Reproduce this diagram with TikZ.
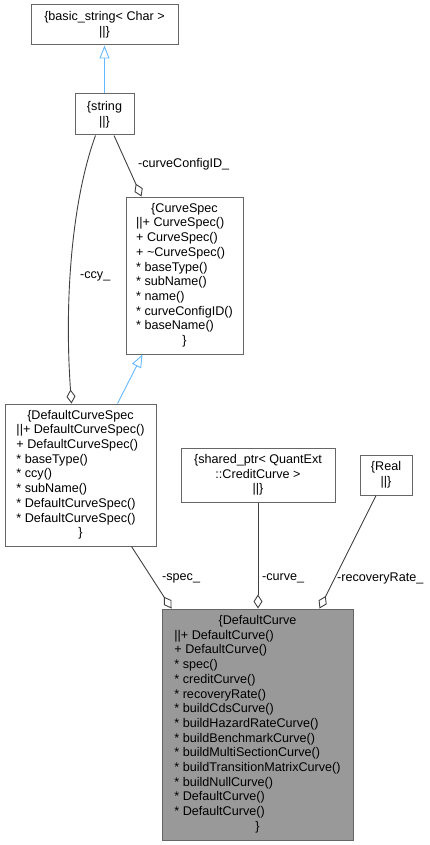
\documentclass[tikz,border=0pt]{standalone}
\usepackage{fontspec}
\setmainfont{Liberation Sans}
\usetikzlibrary{arrows.meta,calc}
\definecolor{boxline}{HTML}{666666}
\definecolor{edgeline}{HTML}{404040}
\definecolor{inhblue}{HTML}{63B8FF}
\definecolor{mainfill}{HTML}{999999}
\newcommand{\st}{{*}~}
\begin{document}
\begin{tikzpicture}[x=1pt,y=-1pt,
  every node/.style={font=\fontsize{12.6}{14.7}\selectfont, inner sep=0pt},
  cls/.style={draw=boxline, line width=1pt, fill=white, align=center},
  agg/.style={draw=edgeline, line width=0.9pt, {Diamond[open,length=14pt,width=9pt,line width=0.9pt]}-},
  inh/.style={draw=inhblue, line width=0.9pt, -{Triangle[open,length=13pt,width=10pt,line width=0.9pt]}},
  lbl/.style={anchor=west, text=black}]
\useasboundingbox (0,0) rectangle (430,845);

\node[cls, minimum width=147pt, minimum height=40pt] (bs) at (104.5,25)
  {\{basic\_string< Char >\\ ||\}};
\node[cls, minimum width=59pt, minimum height=41pt] (str) at (104.5,114.5)
  {\{string\\ ||\}};
\node[cls, minimum width=117pt, minimum height=157pt] (cs) at (184.5,275.5)
  {\begin{tabular}{@{}l@{}}\multicolumn{1}{@{}c@{}}{\{CurveSpec}\\
  ||+ CurveSpec()\\
  + CurveSpec()\\
  + \textasciitilde CurveSpec()\\
  \st baseType()\\
  \st subName()\\
  \st name()\\
  \st curveConfigID()\\
  \st baseName()\\
  \multicolumn{1}{@{}c@{}}{\}}\end{tabular}};
\node[cls, minimum width=151pt, minimum height=142pt] (dcs) at (80.5,475)
  {\begin{tabular}{@{}l@{}}\multicolumn{1}{@{}c@{}}{\{DefaultCurveSpec}\\
  ||+ DefaultCurveSpec()\\
  + DefaultCurveSpec()\\
  \st baseType()\\
  \st ccy()\\
  \st subName()\\
  \st DefaultCurveSpec()\\
  \st DefaultCurveSpec()\\
  \multicolumn{1}{@{}c@{}}{\}}\end{tabular}};
\node[cls, minimum width=154pt, minimum height=54pt] (sp) at (258,475)
  {\{shared\_ptr< QuantExt\\ ::CreditCurve >\\ ||\}};
\node[cls, minimum width=52pt, minimum height=40pt] (real) at (386,475)
  {\{Real\\ ||\}};
\node[cls, fill=mainfill, minimum width=191pt, minimum height=231pt] (dc) at (257.5,724.5)
  {\begin{tabular}{@{}l@{}}\multicolumn{1}{@{}c@{}}{\{DefaultCurve}\\
  ||+ DefaultCurve()\\
  + DefaultCurve()\\
  \st spec()\\
  \st creditCurve()\\
  \st recoveryRate()\\
  \st buildCdsCurve()\\
  \st buildHazardRateCurve()\\
  \st buildBenchmarkCurve()\\
  \st buildMultiSectionCurve()\\
  \st buildTransitionMatrixCurve()\\
  \st buildNullCurve()\\
  \st DefaultCurve()\\
  \st DefaultCurve()\\
  \multicolumn{1}{@{}c@{}}{\}}\end{tabular}};

% inheritance
\draw[inh] (str.north) -- (bs.south);
\draw[inh] ($(dcs.north west)+(113,0)$) -- ($(cs.south west)+(17,0)$);

% aggregation
\draw[agg] ($(cs.north west)+(16,0)$) -- ($(str.south)+(9.5,0)$);
\draw[agg] ($(dcs.north west)+(67,0)$) .. controls (64,300) and (72,200) .. ($(str.south)+(-9,0)$);
\draw[agg] ($(dc.north west)+(10,0)$) -- ($(dcs.south west)+(127,0)$);
\draw[agg] (dc.north -| sp.south) -- (sp.south);
\draw[agg] ($(dc.north west)+(158,0)$) -- ($(real.south)+(-10,0)$);

% labels
\node[lbl] (lcc) at (138,164) {-curveConfigID\_};
\node[lbl] (lccy) at (80,276) {-ccy\_};
\node[lbl] (lspec) at (162,578) {-spec\_};
\node[lbl] (lcurve) at (262,578) {-curve\_};
\node[lbl] (lrr) at (337,578) {-recoveryRate\_};
\end{tikzpicture}
\end{document}
